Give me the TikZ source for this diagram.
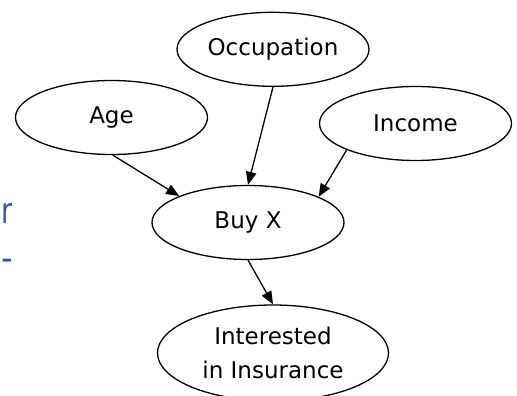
\documentclass[tikz,border=0pt]{standalone}
\usepackage{fontspec}
\setmainfont{DejaVu Sans}
\usetikzlibrary{arrows.meta,shapes.geometric}
\definecolor{slideblue}{HTML}{2B5F9A}
\begin{document}
\begin{tikzpicture}[x=1pt,y=-1pt,
  var/.style={ellipse,draw,line width=1.3pt,inner sep=0pt,minimum width=192pt,minimum height=74pt,
    font=\fontsize{23}{33.5}\selectfont,align=center},
  edge/.style={line width=1.3pt,-{Triangle[length=13pt,width=10.5pt]}},
  cut/.style={text=slideblue,font=\fontsize{36}{40}\selectfont,inner sep=0pt,anchor=west}]
\useasboundingbox (0,0) rectangle (517,396);
\node[var] (occ) at (273,49.3) {Occupation};
\node[var] (age) at (111.5,117.5) {Age};
\node[var] (inc) at (415.5,123.5) {Income};
\node[var] (buy) at (248,222.5) {Buy X};
\node[var,minimum width=231pt,minimum height=96pt] (int) at (273,353) {Interested\\in Insurance};
\node[cut] (r) at (1.5,213) {\scalebox{0.75}[1]{r}};
\node[cut] (dash) at (1.5,265) {\scalebox{0.9}[1]{-}};
\draw[edge] (age.-88) -- (buy.159.4);
\draw[edge] (occ.south) -- (buy.north);
\draw[edge] (inc.201.9) -- (buy.20.6);
\draw[edge] (buy.south) -- (int.north);
\end{tikzpicture}
\end{document}
